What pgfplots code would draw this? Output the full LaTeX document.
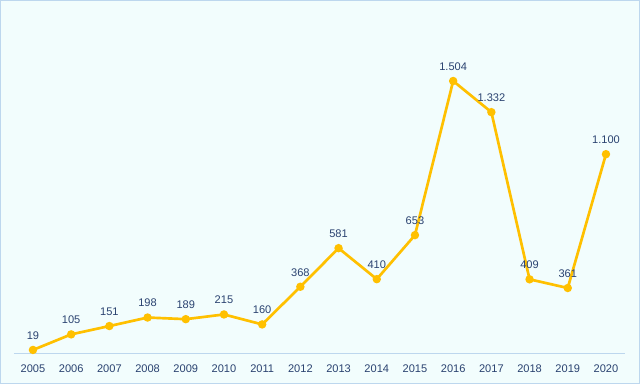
\documentclass[border=0pt]{standalone}
\usepackage{pgfplots}
\pgfplotsset{compat=1.18}
\usepackage{pgfplotstable}
\usepackage{fontspec}
\setmainfont{Liberation Sans}
\definecolor{bgc}{HTML}{F2FDFD}
\definecolor{brd}{HTML}{BDD7EE}
\definecolor{gold}{HTML}{FFC000}
\definecolor{navy}{HTML}{2A4270}
\pgfplotstableread{
year val lab
2005 19 19
2006 105 105
2007 151 151
2008 198 198
2009 189 189
2010 215 215
2011 160 160
2012 368 368
2013 581 581
2014 410 410
2015 653 653
2016 1504 1.504
2017 1332 1.332
2018 409 409
2019 361 361
2020 1100 1.100
}\datatable
\begin{document}
\begin{tikzpicture}
\fill[bgc] (0,0) rectangle (480pt,288pt);
\draw[brd, line width=0.75pt] (0.375pt,0.375pt) rectangle (479.625pt,287.625pt);
\begin{axis}[
  at={(10.4pt,22.95pt)}, anchor=south west,
  scale only axis, width=458.4pt, height=244.5pt,
  xmin=2004.5, xmax=2020.5, ymin=0, ymax=1800,
  axis y line=none, axis x line*=bottom,
  x axis line style={brd, line width=0.75pt, -},
  xtick=data, major tick length=0pt,
  xticklabel style={text=navy, font=\fontsize{8.3}{9}\selectfont},
  x tick label style={yshift=-5pt},
  /pgf/number format/assume math mode=true,
  xticklabel={\pgfmathprintnumber[1000 sep={}]{\tick}},
  clip=false,
]
\addplot[gold, line width=2pt, mark=*, mark size=2.1pt, mark options={fill=gold, draw=gold},
  nodes near coords, point meta=explicit symbolic,
  every node near coord/.append style={text=navy, font=\fontsize{8.3}{9}\selectfont, yshift=3.5pt}]
  table[x=year, y=val, meta=lab]{\datatable};
\end{axis}
\end{tikzpicture}
\end{document}
